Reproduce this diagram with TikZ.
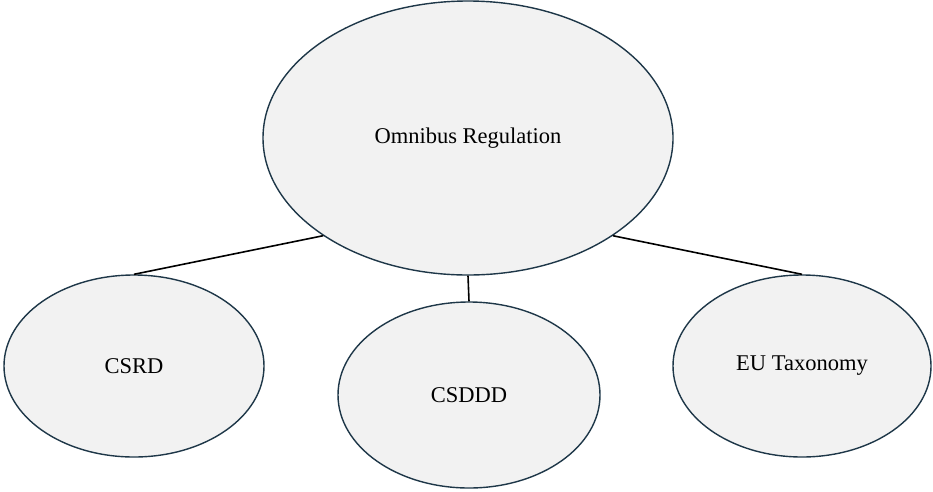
\documentclass[tikz,border=0pt]{standalone}
\usepackage{fontspec}
\setmainfont{Liberation Serif}
\usetikzlibrary{shapes.geometric}
\definecolor{ellfill}{HTML}{F2F2F2}
\definecolor{elldraw}{HTML}{1E3748}
\tikzset{
  bubble/.style={ellipse, draw=elldraw, fill=ellfill, line width=1.4pt, inner sep=0pt,
    font=\fontsize{22.5}{26}\selectfont, text=black},
  link/.style={draw=black, line width=1.6pt}
}
\begin{document}
\begin{tikzpicture}[x=1pt,y=-1pt]
\useasboundingbox (0,0) rectangle (933,491);
\node[bubble, minimum width=410pt, minimum height=274pt] (main) at (468,138) {Omnibus Regulation};
\node[bubble, minimum width=260pt, minimum height=182pt] (csrd) at (134,366) {CSRD};
\node[bubble, minimum width=262pt, minimum height=186pt] (csddd) at (469,395) {CSDDD};
\node[bubble, minimum width=258pt, minimum height=182pt] (eut) at (802,366) {EU Taxonomy};
\draw[link] (main.214) -- (csrd.north);
\draw[link] (main.south) -- (csddd.north);
\draw[link] (main.-34) -- (eut.north);
\end{tikzpicture}
\end{document}
